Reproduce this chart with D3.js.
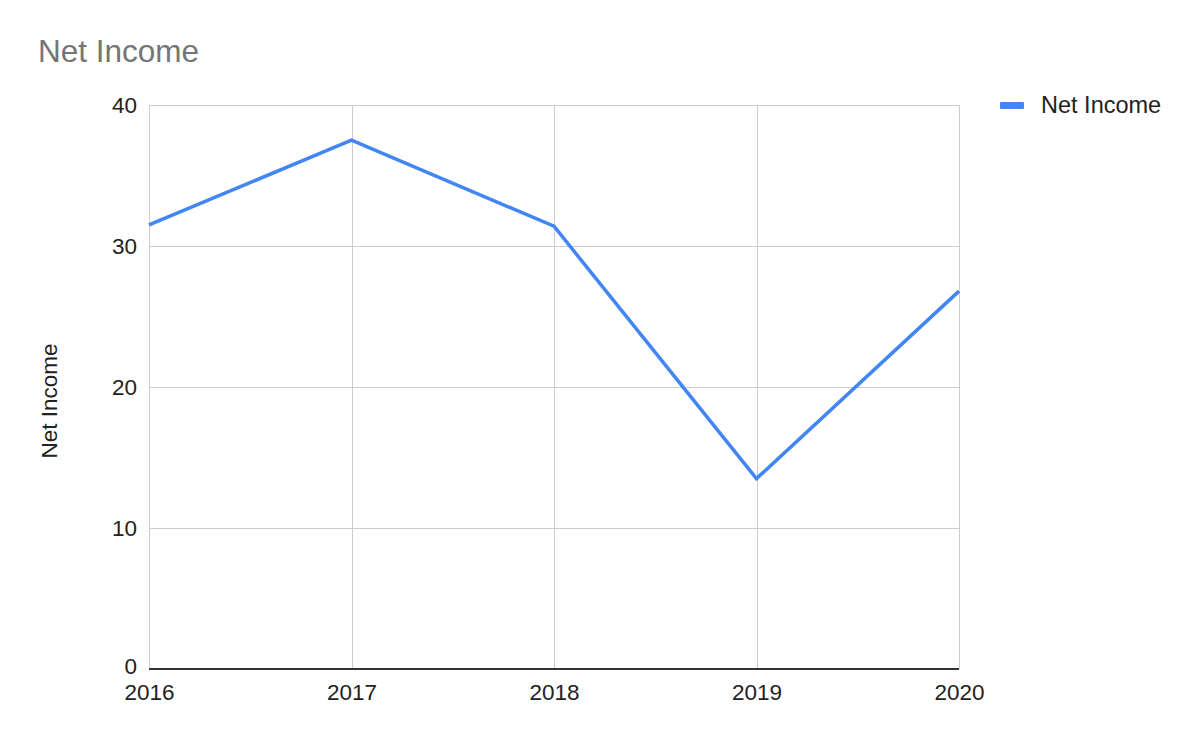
<!DOCTYPE html>
<html><head><meta charset="utf-8">
<script src="https://cdn.jsdelivr.net/npm/d3@7"></script>
<style>body{margin:0;background:#fff}svg{display:block}text{font-family:"Liberation Sans",Arial,sans-serif}</style>
</head><body>
<script>
const years = ["2016","2017","2018","2019","2020"];
const netIncome = [31.5, 37.5, 31.4, 13.5, 26.8];
const yTicks = [0, 10, 20, 30, 40];
const seriesName = "Net Income";
const chartTitle = "Net Income";
const yAxisTitle = "Net Income";

const W = 1200, H = 742;
const m = {left:149, right:241, top:105, bottom:73};
const FS = 22.5;
const svg = d3.select("body").append("svg").attr("width", W).attr("height", H);

const x = d3.scalePoint().domain(years).range([m.left, W - m.right]);
const y = d3.scaleLinear().domain([0, 40]).range([H - m.bottom, m.top]);

// horizontal gridlines
svg.append("g").selectAll("line").data(yTicks.filter(d => d > 0)).join("line")
  .attr("x1", m.left).attr("x2", W - m.right)
  .attr("y1", d => y(d) + 0.5).attr("y2", d => y(d) + 0.5)
  .attr("stroke", "#cccccc").attr("stroke-width", 1);
// vertical gridlines
svg.append("g").selectAll("line").data(years).join("line")
  .attr("x1", d => Math.round(x(d)) + 0.5).attr("x2", d => Math.round(x(d)) + 0.5)
  .attr("y1", m.top).attr("y2", H - m.bottom)
  .attr("stroke", "#cccccc").attr("stroke-width", 1);

// y axis labels
const yAxis = d3.axisLeft(y).tickValues(yTicks).tickSize(0).tickPadding(12).tickFormat(d3.format("d"));
const yg = svg.append("g").attr("transform", `translate(${m.left},0)`).call(yAxis);
yg.select(".domain").remove();
yg.selectAll("text").attr("font-size", FS).attr("fill", "#222").attr("font-family", "Liberation Sans, Arial, sans-serif")
  .attr("dy", d => d === 0 ? "0.22em" : "0.32em");

// x axis labels
const xAxis = d3.axisBottom(x).tickSize(0).tickPadding(15.5);
const xg = svg.append("g").attr("transform", `translate(0,${H - m.bottom})`).call(xAxis);
xg.select(".domain").remove();
xg.selectAll("text").attr("font-size", FS).attr("fill", "#222").attr("font-family", "Liberation Sans, Arial, sans-serif");

// baseline
svg.append("line").attr("x1", m.left).attr("x2", W - m.right)
  .attr("y1", y(0)).attr("y2", y(0)).attr("stroke", "#333").attr("stroke-width", 2);

// line
const line = d3.line().x((d, i) => x(years[i])).y(d => y(d));
svg.append("path").datum(netIncome).attr("d", line)
  .attr("fill", "none").attr("stroke", "#4285F4").attr("stroke-width", 3.5)
  .attr("stroke-linejoin", "miter");

// title
svg.append("text").attr("x", 38).attr("y", 62).text(chartTitle)
  .attr("font-size", 31.5).attr("fill", "#757575");

// y axis title
svg.append("text").attr("transform", "translate(57,401) rotate(-90)")
  .attr("text-anchor", "middle").attr("font-size", FS).attr("fill", "#222").text(yAxisTitle);

// legend
const lg = svg.append("g");
lg.append("rect").attr("x", 1000).attr("y", 102).attr("width", 24).attr("height", 7)
  .attr("rx", 1).attr("fill", "#4285F4");
lg.append("text").attr("x", 1041).attr("y", 112.5).attr("font-size", 23.5).attr("fill", "#222").text(seriesName);
</script>
</body></html>
